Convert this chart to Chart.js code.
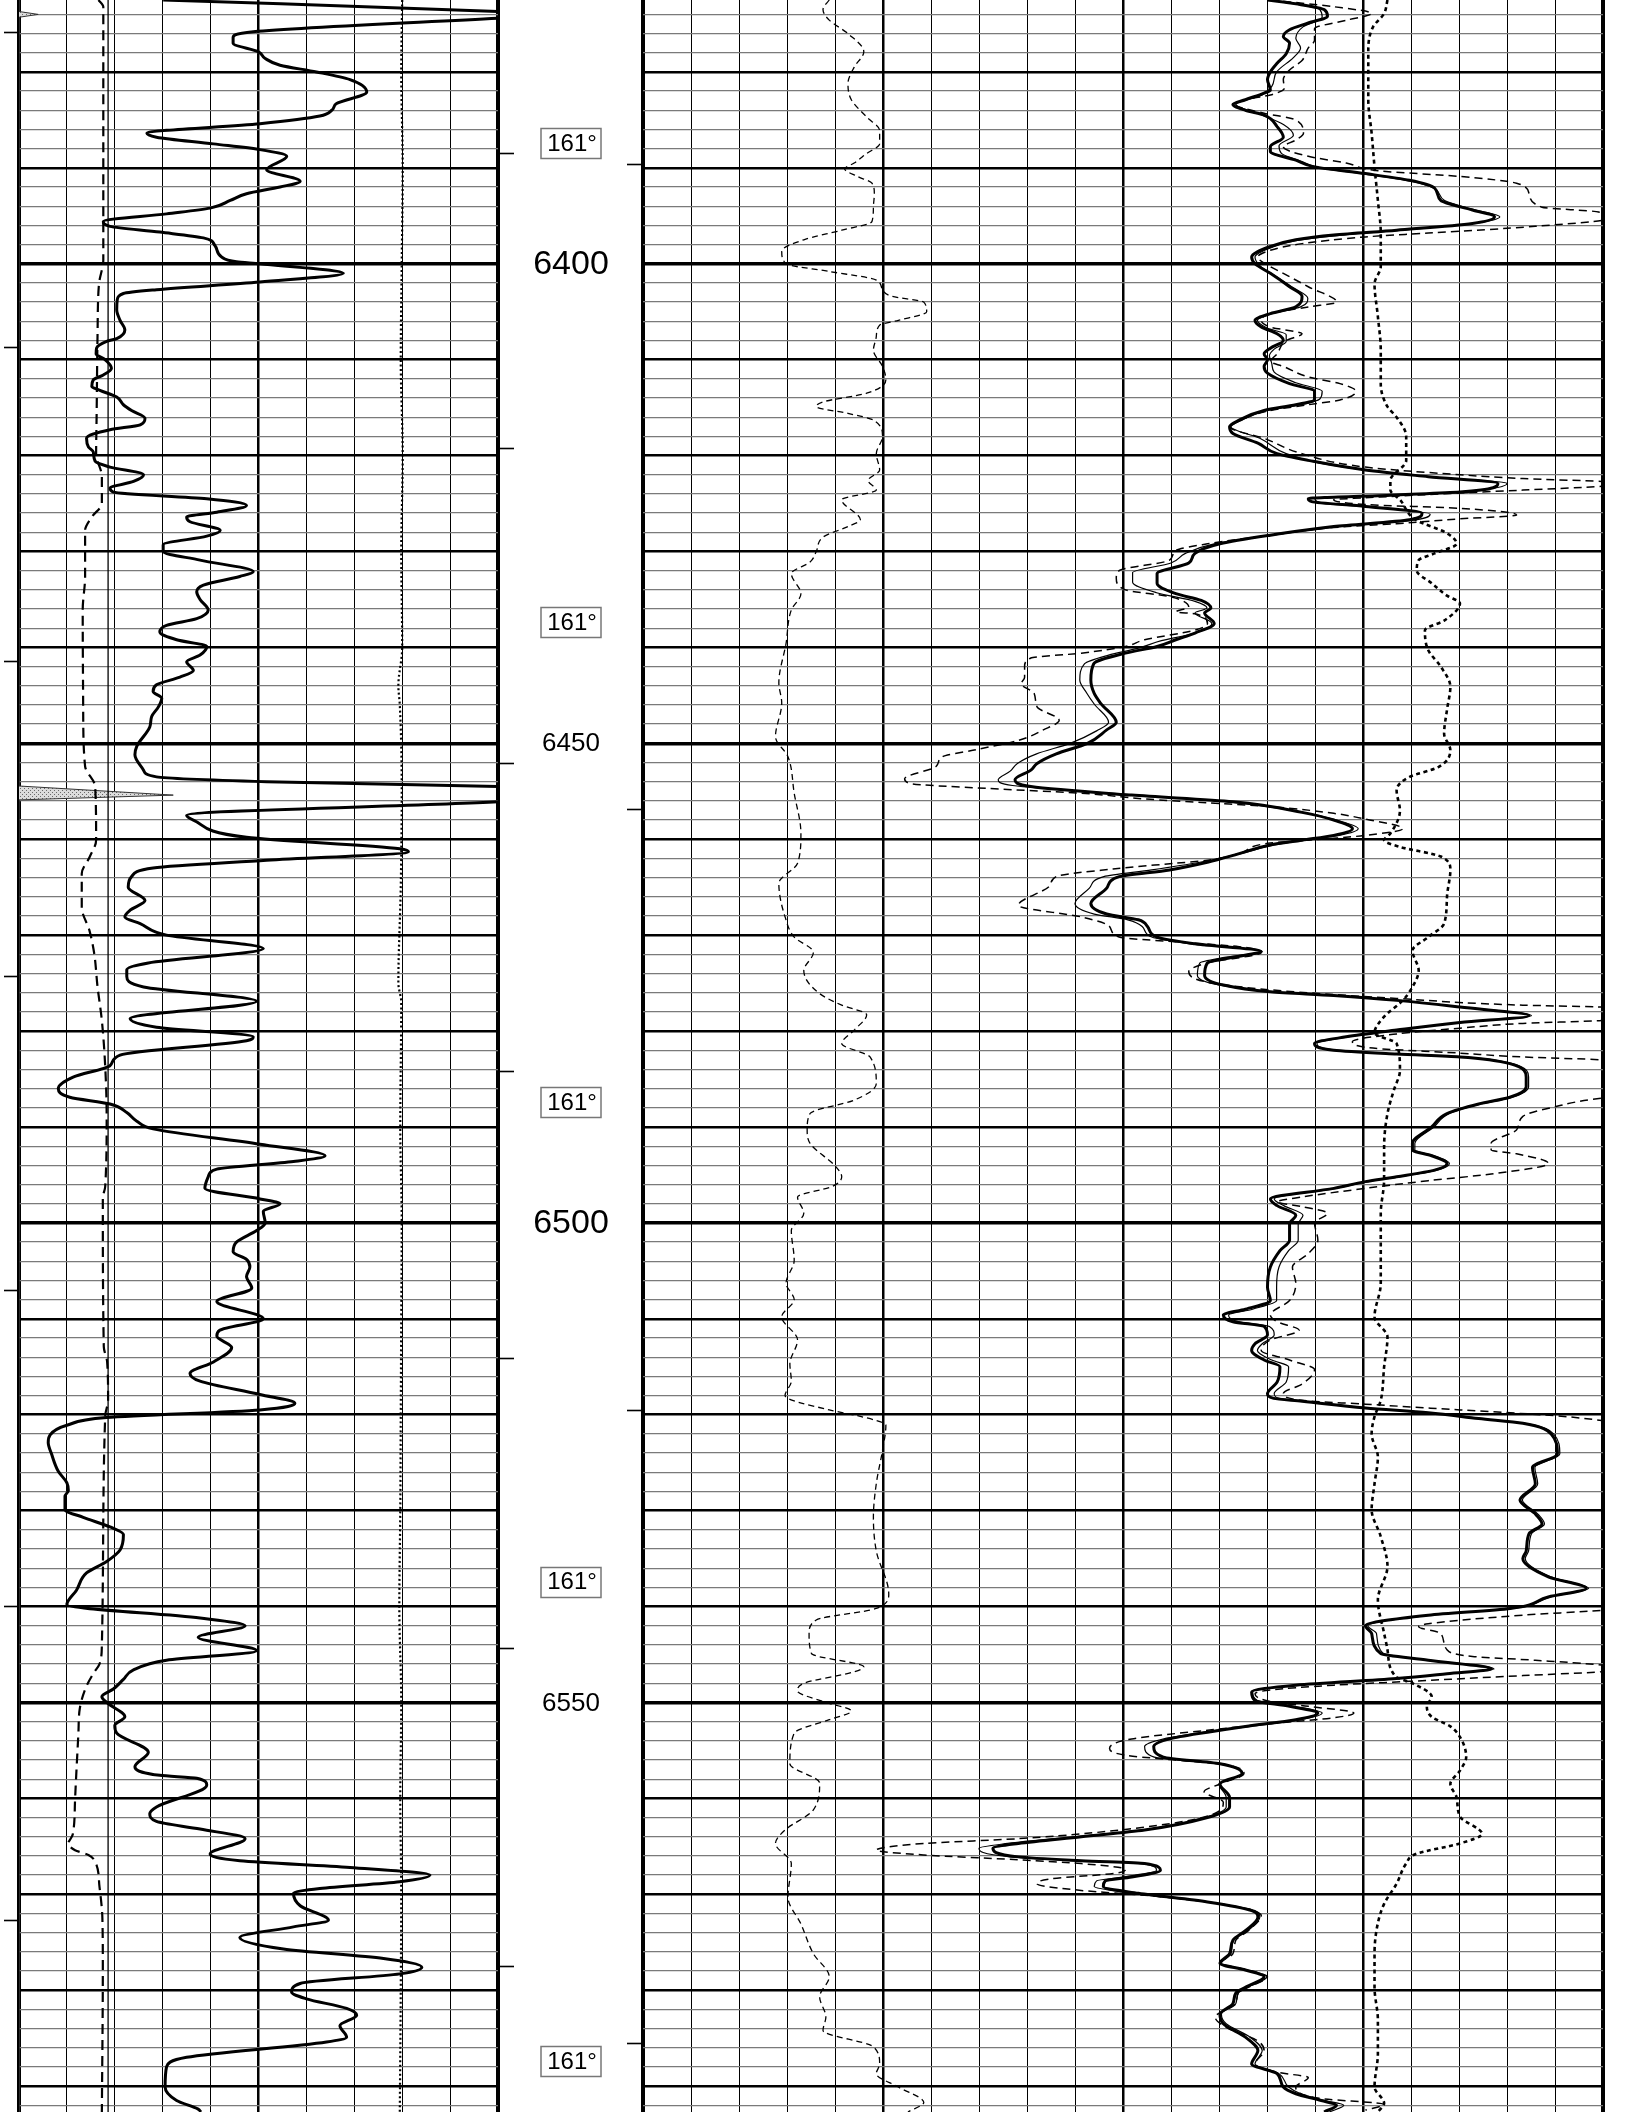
<!DOCTYPE html>
<html><head><meta charset="utf-8">
<script src="https://cdn.jsdelivr.net/npm/chart.js@4.4.1/dist/chart.umd.min.js"></script>
<style>
html,body{margin:0;padding:0;background:#fff;}
body{width:1627px;height:2112px;position:relative;overflow:hidden;}
canvas{position:absolute;top:0;}
#cl{left:0;}
#cr{left:600px;}
</style></head><body>
<canvas id="cl" width="650" height="2112"></canvas>
<canvas id="cr" width="1027" height="2112"></canvas>
<script>
// ---------------- DATA (depth in ft, value in track units) ----------------
const depthTop = 6372.5, depthBottom = 6592.7;

// depth track texts
const depthLabels = [6400, 6450, 6500, 6550];
const tempDepths = [6387.4, 6437.4, 6487.4, 6537.4, 6587.4];
const tempLabels = ['161°', '161°', '161°', '161°', '161°'];
const leftEdgeTicks = [6375.8, 6408.7, 6441.4, 6474.3, 6507.0, 6539.9, 6572.7];
const depthLeftTicks = [6388.4, 6419.2, 6452.1, 6484.2, 6514.1, 6544.3, 6577.5];
const depthRightTicks = [6389.6, 6456.8, 6519.5, 6585.5];

// track 1 (0..100)
const gammaRay = [[6372.5,30.1],[6373.7,100],[6374.1,112],[6374.4,100],[6375.8,48.9],[6376.4,44.7],[6377.0,44.7],[6377.9,50.0],[6378.6,51.4],[6379.3,54.5],[6380.0,62.1],[6380.8,69.1],[6382.1,72.6],[6383.3,66.3],[6384.0,65.3],[6384.6,62.8],[6385.4,50.3],[6386.4,26.7],[6386.8,28.7],[6387.5,40.6],[6388.1,50.3],[6388.8,55.9],[6390.2,51.7],[6391.4,58.7],[6392.0,54.5],[6392.7,47.5],[6393.4,44.1],[6394.2,39.9],[6394.8,30.8],[6395.6,17.6],[6396.1,19.0],[6396.7,29.4],[6397.3,38.5],[6398.1,40.9],[6399.3,42.3],[6399.8,45.4],[6400.0,50.3],[6401.0,67.7],[6401.9,50.3],[6402.7,28.7],[6403.1,21.8],[6403.8,20.5],[6404.8,20.4],[6405.9,21.1],[6406.9,22.1],[6407.8,20.4],[6408.1,18.3],[6408.8,16.2],[6409.4,16.1],[6409.9,17.7],[6410.9,19.3],[6411.6,17.6],[6412.1,15.5],[6412.8,15.2],[6413.2,16.9],[6413.9,20.4],[6414.7,21.8],[6415.3,23.5],[6416.1,26.3],[6416.8,25.3],[6417.3,19.0],[6418.2,14.1],[6419.1,14.5],[6419.6,15.5],[6420.6,15.9],[6421.2,19.0],[6422.0,26.0],[6422.7,23.9],[6423.4,19.0],[6423.8,19.7],[6424.5,39.2],[6425.2,47.5],[6425.9,41.3],[6426.4,35.0],[6426.9,35.7],[6427.8,42.0],[6428.4,39.2],[6429.3,30.1],[6430.0,30.1],[6430.9,37.8],[6432.1,48.9],[6432.6,46.1],[6433.5,38.5],[6434.2,37.1],[6435.0,37.8],[6436.1,39.5],[6437.0,37.1],[6437.7,30.8],[6438.4,29.4],[6439.2,32.9],[6439.9,39.2],[6440.8,37.8],[6441.5,35.0],[6442.4,36.4],[6443.1,33.6],[6443.9,28.7],[6444.6,28.0],[6445.3,29.8],[6446.2,29.1],[6447.2,27.7],[6448.3,27.3],[6450.3,24.6],[6451.2,24.2],[6452.8,26.0],[6453.5,28.7],[6454.0,51.7],[6454.5,100],[6455.3,125],[6456.1,100],[6457.5,35.0],[6458.0,36.4],[6459.8,47.5],[6461.0,79.5],[6461.3,81.3],[6462.2,51.7],[6463.0,28.0],[6463.9,23.5],[6465.0,22.8],[6466.4,26.3],[6467.4,23.2],[6468.1,22.1],[6468.8,25.3],[6470.0,30.8],[6471.4,51.0],[6472.9,27.0],[6473.6,22.5],[6474.3,22.5],[6475.4,26.0],[6476.9,49.6],[6478.7,23.2],[6479.6,28.7],[6480.6,48.9],[6481.0,47.5],[6482.5,21.1],[6483.6,19.0],[6484.8,11.3],[6486.0,8.2],[6486.9,10.6],[6487.6,19.0],[6488.5,22.5],[6489.4,24.6],[6490.2,28.0],[6491.8,50.3],[6493.0,63.9],[6493.6,57.3],[6494.4,41.3],[6495.2,39.5],[6496.4,38.8],[6497.5,50.3],[6498.0,54.5],[6498.8,51.0],[6500.0,51.4],[6500.8,49.6],[6502.0,45.4],[6503.0,44.7],[6503.8,47.5],[6504.6,48.2],[6505.6,47.5],[6506.8,48.6],[6508.2,41.3],[6510.0,51.0],[6511.2,41.9],[6511.8,41.3],[6513.0,44.4],[6514.5,40.6],[6515.7,35.7],[6516.5,37.8],[6517.9,50.3],[6518.8,57.6],[6519.5,50.3],[6520.3,18.3],[6521.1,10.0],[6522.1,6.5],[6522.9,6.1],[6524.1,6.8],[6525.9,8.2],[6527.1,10.0],[6527.9,10.3],[6528.5,9.6],[6529.9,9.6],[6530.7,13.4],[6531.7,19.0],[6532.5,21.8],[6534.1,21.1],[6535.3,18.3],[6536.5,14.1],[6538.3,12.0],[6539.8,10.0],[6541.2,37.8],[6542.0,47.2],[6543.2,37.4],[6544.6,49.6],[6545.6,30.8],[6546.6,23.9],[6547.6,21.8],[6548.6,19.7],[6549.4,17.3],[6550.0,18.3],[6551.5,22.1],[6552.4,20.0],[6553.2,20.4],[6555.2,27.0],[6556.7,24.2],[6557.6,29.4],[6557.9,37.1],[6558.6,39.2],[6560.9,28.7],[6561.6,27.3],[6562.4,28.7],[6563.2,37.8],[6564.2,47.2],[6565.8,39.9],[6566.5,46.1],[6567.2,69.1],[6568.0,85.8],[6568.7,79.5],[6569.4,62.8],[6569.9,57.3],[6571.2,58.7],[6572.7,64.6],[6573.4,57.3],[6574.5,46.1],[6575.7,55.2],[6576.7,76.1],[6577.6,84.1],[6578.3,79.5],[6579.3,58.7],[6580.2,56.9],[6580.9,60.0],[6581.9,68.4],[6582.6,70.5],[6583.7,67.0],[6584.9,68.4],[6585.4,64.2],[6587.0,35.0],[6588.0,30.8],[6590.1,30.5],[6591.5,32.9],[6592.4,37.4],[6592.7,38.0]];

const caliper = [[6372.5,16.6],[6373.2,17.6],[6399.6,17.6],[6402.1,16.7],[6407.3,16.4],[6416.0,16.2],[6419.8,16.1],[6422.2,17.3],[6425.0,17.3],[6426.4,15.2],[6427.8,13.8],[6432.6,13.8],[6436.1,13.3],[6446.5,13.4],[6452.4,13.8],[6454.5,15.9],[6460.1,16.1],[6461.8,14.8],[6463.6,13.1],[6467.1,13.1],[6469.5,14.7],[6471.9,15.7],[6475.4,16.4],[6478.9,17.3],[6483.7,18.0],[6488.9,18.3],[6496.2,18.0],[6497.4,17.5],[6512.9,17.7],[6514.5,18.4],[6518.5,18.6],[6520.1,18.0],[6544.0,17.3],[6546.0,16.8],[6547.0,15.5],[6548.4,14.0],[6550.6,12.7],[6553.2,12.4],[6560.2,11.7],[6563.8,11.2],[6564.7,10.3],[6565.4,11.7],[6565.9,14.5],[6566.6,15.9],[6569.2,16.8],[6572.4,17.4],[6577.6,17.5],[6592.7,17.3]];

const bitSize = [[6372.5,18.6],[6592.7,18.6]];

const tension = [[6372.5,80.0],[6380,79.8],[6390,80.1],[6400,79.9],[6410,79.7],[6420,80.1],[6430,79.8],[6440,80.0],[6444,79.2],[6446,79.5],[6455,79.9],[6465,79.7],[6475,79.2],[6477,79.8],[6490,79.6],[6500,79.9],[6510,79.8],[6520,79.7],[6530,79.6],[6540,79.4],[6550,79.8],[6560,79.6],[6570,79.8],[6580,79.7],[6592.7,79.5]];

const spikeFlag = [[6372.5,0],[6373.7,0],[6374.0,4],[6374.3,0],[6454.45,0],[6455.4,32.2],[6455.9,0],[6592.7,0]];

// track 2 (0..200)
const curveA = [[6372.5,38.8],[6373.5,37.5],[6374.6,38.8],[6376.0,42.7],[6377.9,46.0],[6379.5,44.0],[6381.2,42.7],[6382.9,43.4],[6384.7,46.6],[6386.1,49.3],[6387.5,49.3],[6388.5,46.6],[6389.5,44.0],[6390.1,42.0],[6390.9,44.7],[6391.6,47.7],[6392.7,48.2],[6394.1,48.0],[6395.6,47.7],[6396.5,41.4],[6397.5,33.5],[6398.7,28.9],[6400.0,29.8],[6400.8,38.8],[6401.7,48.6],[6402.7,49.9],[6403.4,51.9],[6404.0,58.5],[6405.0,59.1],[6405.9,53.2],[6406.4,49.3],[6407.6,48.6],[6409.0,48.0],[6410.7,49.9],[6412.1,50.6],[6413.5,46.6],[6414.4,37.5],[6414.9,36.1],[6415.6,42.7],[6416.3,48.0],[6418.0,49.9],[6419.8,48.6],[6421.5,49.3],[6422.6,46.9],[6423.6,48.6],[6424.6,41.4],[6426.7,45.3],[6427.4,42.7],[6428.5,37.5],[6430.0,36.1],[6431.1,34.8],[6432.3,30.9],[6434.4,32.9],[6436.1,30.9],[6439.6,29.8],[6443.7,28.3],[6445.8,28.9],[6449.3,27.6],[6451.4,30.2],[6455.2,31.5],[6459.4,32.9],[6462.5,32.2],[6464.6,28.3],[6468.1,29.6],[6470.2,31.5],[6471.8,35.5],[6473.7,33.5],[6476.1,36.8],[6477.3,41.4],[6478.3,46.6],[6479.9,44.0],[6481.3,41.4],[6482.7,47.3],[6485.5,48.6],[6487.2,44.0],[6488.6,34.8],[6490.3,34.2],[6491.7,34.8],[6494.1,40.1],[6495.2,41.4],[6496.2,39.4],[6497.3,32.2],[6499.0,33.5],[6500.8,30.9],[6503.9,31.5],[6506.3,29.8],[6508.0,31.5],[6509.8,28.9],[6512.2,32.2],[6514.7,30.6],[6516.5,30.9],[6518.0,29.6],[6519.5,38.8],[6520.1,44.7],[6521.1,50.6],[6523.7,49.9],[6527.2,48.6],[6530.7,48.0],[6534.2,48.6],[6538.7,51.2],[6540.2,48.6],[6541.4,36.1],[6542.8,34.6],[6544.9,35.1],[6546.3,46.0],[6546.8,44.0],[6548.0,33.5],[6548.8,32.2],[6549.9,37.5],[6550.9,43.4],[6551.8,38.8],[6553.2,31.5],[6556.4,30.6],[6558.4,36.8],[6561.2,35.5],[6563.3,29.6],[6564.7,27.6],[6566.8,30.9],[6570.3,30.2],[6573.1,32.9],[6576.2,35.5],[6578.6,38.8],[6580.7,36.8],[6582.8,38.1],[6584.2,37.5],[6585.9,48.0],[6587.7,49.3],[6588.7,48.6],[6590.1,53.2],[6591.7,58.5],[6592.7,55.2]];

const deepRes = [[6372.5,130.1],[6372.9,136.0],[6373.5,141.9],[6374.2,142.6],[6374.9,138.6],[6375.6,134.7],[6376.3,133.4],[6377.0,134.7],[6378.1,134.0],[6379.1,132.1],[6380.0,130.7],[6380.8,130.1],[6381.9,130.7],[6382.2,129.4],[6382.9,125.5],[6383.4,122.9],[6384.0,125.5],[6384.5,129.4],[6385.7,132.1],[6386.8,133.4],[6387.8,130.7],[6388.3,130.7],[6389.2,136.0],[6389.9,139.9],[6390.6,150.5],[6391.3,159.7],[6392.1,164.9],[6393.4,166.2],[6394.4,172.8],[6395.1,177.4],[6395.8,172.8],[6396.5,157.0],[6397.0,143.9],[6397.5,136.0],[6398.2,130.7],[6399.3,126.8],[6400.0,127.5],[6401.0,130.7],[6402.4,134.7],[6403.4,137.3],[6404.5,136.0],[6405.2,130.7],[6405.9,127.5],[6406.6,128.8],[6407.3,132.1],[6408.0,133.4],[6408.8,130.7],[6409.4,129.4],[6410.0,130.1],[6410.7,129.4],[6411.4,130.1],[6412.5,134.7],[6413.3,139.9],[6414.2,139.9],[6414.7,136.0],[6415.3,129.4],[6416.3,124.2],[6417.0,122.2],[6417.7,122.9],[6418.7,128.1],[6419.8,132.1],[6420.5,138.6],[6421.5,150.5],[6422.2,163.6],[6422.9,178.1],[6423.8,170.2],[6424.1,157.0],[6424.5,138.6],[6424.8,139.3],[6425.3,150.5],[6426.0,162.3],[6426.7,159.7],[6427.4,143.9],[6428.3,130.7],[6429.2,120.2],[6430.2,115.0],[6431.2,113.7],[6432.3,107.1],[6433.3,107.1],[6434.4,111.0],[6435.1,116.3],[6435.9,118.3],[6436.4,117.0],[6437.5,119.0],[6438.5,115.0],[6439.2,111.0],[6439.9,107.1],[6440.6,100.5],[6441.7,93.9],[6443.4,93.3],[6444.8,94.0],[6445.8,95.3],[6447.8,98.6],[6448.6,96.6],[6450.0,92.6],[6451.1,86.1],[6452.1,82.1],[6452.8,80.8],[6453.8,77.5],[6454.5,80.8],[6455.4,101.8],[6456.1,122.9],[6457.2,137.3],[6458.0,143.9],[6458.9,147.8],[6459.6,143.9],[6460.1,137.3],[6460.6,130.7],[6461.5,124.2],[6462.4,117.6],[6463.2,109.7],[6463.9,99.2],[6465.1,96.6],[6466.7,93.3],[6467.8,96.6],[6468.4,103.2],[6469.1,105.1],[6470.2,107.1],[6470.9,115.0],[6471.7,128.8],[6472.3,122.9],[6472.9,117.6],[6474.2,117.0],[6475.2,120.9],[6475.9,130.7],[6476.3,143.9],[6476.8,157.0],[6477.5,170.2],[6478.4,184.6],[6479.1,170.2],[6479.9,157.0],[6480.6,146.5],[6481.3,139.9],[6482.0,143.9],[6482.4,157.0],[6482.7,170.2],[6483.4,180.6],[6484.8,184.0],[6485.8,184.0],[6486.9,180.6],[6487.6,174.1],[6488.6,167.5],[6490.0,164.3],[6491.7,160.3],[6492.4,160.3],[6493.0,164.3],[6493.8,167.5],[6494.5,164.9],[6495.2,157.0],[6495.7,150.5],[6496.4,143.9],[6497.5,130.7],[6498.2,132.1],[6499.2,136.0],[6500.1,134.7],[6501.8,134.7],[6502.9,132.7],[6504.6,130.7],[6506.7,130.1],[6508.1,130.7],[6509.0,125.5],[6509.6,120.9],[6510.3,122.9],[6510.8,129.4],[6511.7,130.1],[6512.6,127.5],[6513.3,126.8],[6514.3,129.4],[6515.0,132.7],[6516.6,132.1],[6517.8,130.1],[6518.3,131.4],[6518.6,137.3],[6519.3,150.5],[6519.8,163.6],[6520.4,174.1],[6520.9,183.3],[6522.0,189.2],[6524.1,190.5],[6525.5,185.3],[6527.2,185.9],[6528.9,182.7],[6530.4,186.0],[6531.4,187.3],[6532.4,184.6],[6534.2,184.0],[6535.0,183.3],[6536.9,188.6],[6538.1,196.5],[6539.0,188.6],[6540.2,180.7],[6540.9,163.6],[6542.0,150.5],[6542.8,151.8],[6544.9,153.7],[6545.6,163.6],[6546.5,176.8],[6547.0,167.5],[6547.5,157.0],[6548.2,136.0],[6548.9,126.8],[6549.8,127.5],[6550.4,134.7],[6551.1,140.6],[6551.8,136.0],[6552.5,125.5],[6553.1,117.6],[6553.8,109.7],[6554.6,106.4],[6555.7,108.4],[6556.4,120.2],[6557.4,124.8],[6558.5,120.2],[6559.9,122.2],[6560.9,122.2],[6562.0,117.6],[6563.3,104.5],[6564.0,91.3],[6564.7,78.2],[6565.2,72.9],[6566.1,78.2],[6566.5,91.3],[6566.8,104.5],[6567.5,107.8],[6568.2,101.8],[6568.6,96.3],[6569.2,95.9],[6569.9,103.2],[6570.8,117.6],[6571.7,126.8],[6572.4,128.1],[6573.8,125.5],[6574.8,122.9],[6576.2,122.2],[6577.2,120.2],[6577.9,125.5],[6578.6,129.4],[6579.7,125.5],[6580.3,123.5],[6581.4,122.9],[6582.5,120.2],[6583.5,120.9],[6584.9,125.5],[6586.3,128.1],[6587.7,126.8],[6588.7,132.1],[6590.1,133.4],[6590.8,136.0],[6591.5,141.3],[6592.0,144.5],[6592.7,141.9]];

const medRes = [[6372.5,130.5],[6373.5,141.0],[6374.3,141.5],[6375.3,137.5],[6376.5,136.0],[6377.5,137.0],[6378.5,135.5],[6380.0,132.0],[6381.5,131.0],[6382.4,129.0],[6383.4,123.5],[6384.4,128.5],[6385.5,133.5],[6386.6,135.5],[6387.7,132.5],[6388.5,133.0],[6389.3,137.0],[6390.0,141.0],[6390.7,151.0],[6391.4,160.0],[6392.2,165.0],[6393.4,167.0],[6394.4,173.5],[6395.1,178.5],[6395.8,173.0],[6396.5,158.0],[6397.1,144.0],[6397.6,136.0],[6398.3,131.0],[6399.3,127.5],[6400.2,128.5],[6401.2,131.5],[6402.5,135.5],[6403.6,138.5],[6404.5,137.0],[6405.2,131.0],[6405.9,128.0],[6406.7,130.0],[6407.4,134.0],[6408.1,134.0],[6408.9,131.5],[6409.6,130.5],[6410.4,131.0],[6411.3,131.5],[6412.4,136.0],[6413.3,141.5],[6414.1,141.0],[6414.7,137.0],[6415.3,130.0],[6416.3,124.8],[6417.0,122.5],[6418.2,128.5],[6419.8,134.0],[6420.8,141.0],[6421.6,152.0],[6422.3,166.0],[6422.9,180.0],[6423.7,172.0],[6424.1,158.0],[6424.5,140.0],[6424.9,141.0],[6425.4,152.0],[6426.1,164.0],[6426.7,161.0],[6427.4,145.0],[6428.3,131.0],[6429.2,119.0],[6430.2,113.0],[6431.2,110.0],[6432.2,102.0],[6433.2,102.0],[6434.3,107.0],[6435.2,115.0],[6435.9,117.5],[6436.4,115.0],[6437.5,118.5],[6438.5,115.0],[6439.3,108.0],[6440.1,103.0],[6440.8,97.0],[6441.7,92.0],[6443.4,91.0],[6444.8,92.5],[6445.9,94.0],[6447.8,97.0],[6448.7,94.5],[6450.0,89.0],[6451.1,82.0],[6452.1,78.0],[6452.9,76.5],[6453.8,74.0],[6454.4,77.0],[6455.3,100.0],[6456.1,122.0],[6457.2,137.5],[6458.0,144.5],[6458.9,149.0],[6459.6,145.0],[6460.1,138.0],[6460.6,131.5],[6461.5,124.5],[6462.4,116.0],[6463.2,106.0],[6463.9,96.0],[6465.1,93.0],[6466.7,90.0],[6467.8,94.0],[6468.4,101.0],[6469.1,104.0],[6470.2,106.0],[6470.9,114.0],[6471.7,129.0],[6472.3,121.5],[6472.9,116.0],[6474.2,115.5],[6475.2,120.0],[6475.9,131.0],[6476.3,144.4],[6476.8,157.5],[6477.5,170.7],[6478.4,185.1],[6479.1,170.7],[6479.9,157.5],[6480.6,147.0],[6481.3,140.4],[6482.0,144.4],[6482.4,157.5],[6482.7,170.7],[6483.4,181.1],[6484.8,184.5],[6485.8,184.5],[6486.9,181.1],[6487.6,174.6],[6488.6,168.0],[6490.0,164.8],[6491.7,160.8],[6492.4,160.8],[6493.0,164.8],[6493.8,168.0],[6494.5,165.4],[6495.2,157.5],[6495.7,151.0],[6496.4,144.4],[6497.5,131.5],[6498.2,133.5],[6499.2,137.5],[6500.1,136.5],[6501.8,136.5],[6502.9,134.5],[6504.6,132.5],[6506.7,132.0],[6508.1,132.0],[6509.0,127.0],[6509.6,122.0],[6510.3,124.0],[6510.8,130.5],[6511.7,131.5],[6512.6,129.0],[6513.3,128.0],[6514.3,131.0],[6515.0,134.5],[6516.6,134.0],[6517.8,131.5],[6518.3,132.5],[6518.6,137.8],[6519.3,151.0],[6519.8,164.1],[6520.4,174.6],[6520.9,183.8],[6522.0,189.7],[6524.1,191.0],[6525.5,185.8],[6527.2,186.4],[6528.9,183.2],[6530.4,186.5],[6531.4,187.8],[6532.4,185.1],[6534.2,184.5],[6535.0,183.8],[6536.9,189.1],[6538.1,197.0],[6539.0,189.1],[6540.2,181.2],[6540.9,164.1],[6542.0,151.0],[6542.8,152.8],[6544.9,154.2],[6545.6,164.1],[6546.5,177.3],[6547.0,168.0],[6547.5,157.5],[6548.2,136.5],[6548.9,127.0],[6549.8,128.0],[6550.4,135.5],[6551.1,141.5],[6551.8,137.0],[6552.5,126.5],[6553.1,117.0],[6553.8,108.5],[6554.6,104.5],[6555.7,106.5],[6556.4,120.0],[6557.4,125.0],[6558.5,120.0],[6559.9,121.5],[6560.9,121.5],[6562.0,117.0],[6563.3,104.0],[6564.0,90.0],[6564.7,76.0],[6565.2,70.0],[6566.1,76.5],[6566.5,90.5],[6566.8,104.0],[6567.5,107.0],[6568.2,100.0],[6568.6,94.5],[6569.2,94.0],[6569.9,102.0],[6570.8,117.5],[6571.7,127.5],[6572.4,128.5],[6573.8,126.0],[6574.8,123.0],[6576.2,122.5],[6577.2,120.5],[6577.9,126.0],[6578.6,130.0],[6579.7,126.0],[6580.3,124.0],[6581.4,123.5],[6582.5,120.5],[6583.5,121.5],[6584.9,126.5],[6586.3,129.0],[6587.7,127.5],[6588.7,132.5],[6590.1,134.5],[6590.8,137.0],[6591.5,142.0],[6592.0,146.0],[6592.7,143.0]];

const shallowRes = [[6372.5,130.7],[6373.2,143.9],[6373.9,151.8],[6374.6,146.6],[6375.5,139.9],[6376.7,139.9],[6377.5,138.6],[6378.8,137.3],[6379.8,134.7],[6380.8,133.4],[6381.7,133.6],[6382.4,130.7],[6382.9,125.5],[6383.4,123.5],[6384.3,129.4],[6385.0,136.0],[6386.4,137.6],[6387.1,136.0],[6387.8,133.4],[6388.8,138.6],[6389.5,146.5],[6390.3,153.1],[6390.9,170.2],[6391.6,182.0],[6392.7,184.6],[6394.1,187.3],[6394.6,199.1],[6395.3,201.0],[6396.1,185.9],[6396.8,163.6],[6397.2,150.5],[6397.9,137.3],[6398.6,130.7],[6399.3,128.1],[6400.3,130.7],[6401.0,133.4],[6402.4,138.6],[6404.0,144.5],[6404.5,138.6],[6405.2,130.7],[6405.9,128.8],[6406.6,130.7],[6407.3,137.3],[6408.0,134.0],[6409.4,132.1],[6410.2,130.7],[6410.7,133.4],[6411.8,138.6],[6412.5,145.2],[6413.3,148.5],[6414.2,145.2],[6414.7,138.6],[6415.3,130.7],[6416.3,124.5],[6417.0,122.2],[6418.2,129.4],[6419.8,137.3],[6421.2,150.5],[6422.0,170.2],[6422.4,183.3],[6422.7,199.7],[6422.95,204.0],[6423.2,199.7],[6423.6,183.3],[6423.9,170.2],[6424.4,150.5],[6424.6,143.9],[6425.1,150.5],[6425.5,170.2],[6426.2,182.0],[6426.6,170.2],[6427.1,157.0],[6427.5,143.9],[6428.3,130.7],[6429.2,117.6],[6429.9,111.0],[6430.9,109.7],[6432.0,99.2],[6432.8,98.6],[6434.0,100.5],[6434.7,109.7],[6435.8,113.7],[6436.3,111.0],[6436.5,115.0],[6437.5,117.6],[6438.2,115.0],[6439.2,104.5],[6439.9,100.5],[6440.6,91.3],[6441.1,80.8],[6442.0,79.5],[6443.1,79.5],[6443.8,78.8],[6444.8,81.5],[6446.2,82.1],[6447.6,86.7],[6448.6,83.4],[6449.7,78.2],[6450.7,69.0],[6451.4,62.4],[6452.4,61.1],[6453.7,54.5],[6454.2,55.8],[6454.7,71.6],[6455.2,91.3],[6455.8,104.5],[6456.2,117.6],[6456.6,130.7],[6457.3,143.9],[6457.9,150.5],[6458.9,158.3],[6459.6,150.5],[6459.9,143.9],[6460.4,130.7],[6461.5,124.2],[6462.2,117.6],[6462.5,111.0],[6463.1,97.9],[6463.9,86.1],[6464.8,84.8],[6466.9,78.2],[6468.1,91.3],[6469.1,97.2],[6470.2,99.2],[6470.7,111.0],[6471.2,124.2],[6471.8,128.8],[6472.9,117.6],[6473.8,113.7],[6474.9,117.6],[6475.7,130.7],[6476.6,157.0],[6477.3,183.3],[6477.5,199.7],[6478.2,206.0],[6478.9,199.7],[6479.2,183.3],[6479.7,170.2],[6480.3,157.0],[6481.1,147.8],[6481.7,150.5],[6482.3,170.2],[6482.7,183.3],[6483.0,199.7],[6484.1,212.0],[6486.5,212.0],[6487.0,199.7],[6487.9,189.9],[6488.9,183.3],[6490.3,182.0],[6491.7,176.7],[6492.4,176.7],[6492.8,182.0],[6493.8,188.6],[6494.9,176.7],[6495.6,163.6],[6496.4,150.5],[6497.3,137.3],[6497.8,132.1],[6498.3,137.3],[6499.0,142.6],[6500.0,139.9],[6501.8,140.6],[6503.2,138.6],[6504.6,135.3],[6506.3,136.0],[6508.1,134.7],[6509.6,130.7],[6510.3,132.1],[6511.2,136.7],[6512.2,130.7],[6513.3,128.8],[6514.3,134.7],[6515.3,139.9],[6516.8,137.3],[6517.8,133.4],[6518.5,137.3],[6518.9,150.5],[6519.5,170.2],[6520.1,189.9],[6520.6,199.7],[6521.6,212.0],[6539.7,212.0],[6540.4,199.7],[6540.9,183.3],[6541.8,163.6],[6542.1,161.6],[6542.8,166.2],[6544.5,167.5],[6545.2,172.8],[6545.6,185.9],[6546.1,199.7],[6546.5,204.0],[6546.8,199.7],[6547.2,183.3],[6547.8,159.7],[6548.2,143.9],[6548.7,130.7],[6549.1,127.5],[6549.9,130.7],[6550.4,138.6],[6551.1,148.1],[6551.6,143.9],[6552.2,130.7],[6552.9,117.6],[6553.8,101.8],[6554.8,97.2],[6555.5,100.5],[6555.9,108.4],[6556.4,120.2],[6557.4,125.2],[6558.5,120.2],[6559.3,116.9],[6560.4,120.9],[6561.6,119.0],[6563.0,104.5],[6564.2,78.2],[6564.7,58.5],[6565.4,48.6],[6565.9,58.5],[6566.4,78.2],[6566.8,91.3],[6567.4,100.5],[6567.8,98.6],[6568.4,84.8],[6568.9,82.1],[6569.6,91.3],[6570.1,104.5],[6570.8,117.6],[6572.2,128.8],[6573.8,126.1],[6574.8,123.5],[6576.2,122.9],[6577.2,120.2],[6577.9,126.1],[6578.6,130.1],[6579.7,126.1],[6580.3,124.0],[6581.4,123.5],[6582.8,119.2],[6583.9,121.6],[6585.3,128.1],[6586.3,129.4],[6587.7,127.5],[6588.6,132.7],[6589.1,138.6],[6590.1,136.0],[6591.3,141.3],[6591.9,154.4],[6592.5,150.5]];

const curveE = [[6372.5,155.1],[6373.9,154.4],[6375.3,152.1],[6377.7,151.1],[6382.9,151.1],[6386.4,151.8],[6389.9,152.4],[6393.4,153.1],[6396.8,153.7],[6400.3,153.7],[6402.1,152.4],[6405.5,153.1],[6409.0,153.7],[6412.5,153.7],[6414.9,155.1],[6416.0,157.0],[6418.0,159.0],[6420.5,159.0],[6422.6,155.7],[6423.6,155.7],[6424.6,157.7],[6426.7,161.0],[6428.1,167.5],[6429.2,169.5],[6430.2,164.9],[6430.9,161.6],[6432.0,161.2],[6433.3,164.3],[6434.6,167.5],[6435.4,170.2],[6437.2,166.9],[6438.2,162.9],[6440.3,163.6],[6442.0,166.2],[6444.1,168.2],[6446.5,167.5],[6449.0,166.9],[6450.7,168.2],[6452.5,165.6],[6453.5,159.7],[6454.9,157.0],[6457.0,157.7],[6459.4,155.7],[6460.1,154.4],[6460.8,157.7],[6461.8,166.2],[6463.2,168.2],[6466.0,167.5],[6468.8,166.9],[6470.2,163.6],[6471.6,160.3],[6473.7,161.6],[6475.4,160.3],[6476.8,158.3],[6478.5,154.4],[6480.2,152.4],[6481.3,157.0],[6484.1,157.7],[6486.2,156.4],[6488.6,155.1],[6492.1,154.4],[6495.5,154.4],[6499.0,153.7],[6503.9,153.7],[6506.3,153.7],[6509.8,152.4],[6511.9,155.1],[6515.0,154.4],[6518.5,153.7],[6520.2,152.4],[6522.0,151.8],[6524.4,153.1],[6527.2,152.4],[6529.9,151.8],[6532.7,153.7],[6535.8,155.1],[6539.3,153.1],[6542.8,154.4],[6544.5,155.1],[6547.3,156.8],[6548.0,160.3],[6549.4,164.3],[6550.4,163.3],[6551.5,164.3],[6552.5,168.2],[6553.6,170.2],[6555.7,171.5],[6557.1,170.2],[6558.5,168.2],[6559.9,169.5],[6561.9,170.2],[6563.7,174.8],[6564.7,170.2],[6565.8,161.0],[6566.8,159.0],[6568.9,157.0],[6571.0,154.4],[6573.0,153.1],[6576.2,152.4],[6579.7,152.4],[6583.1,153.1],[6586.6,153.1],[6590.1,152.4],[6591.8,154.4],[6592.7,153.1]];

// grid tick positions
const depthGrid = []; for (let d = 6374; d <= 6592; d += 2) depthGrid.push(d);
const track1Grid = [0,10,20,30,40,50,60,70,80,90,100];
const track2Grid = []; for (let v = 0; v <= 200; v += 10) track2Grid.push(v);

// ---------------- RENDERING ----------------
Chart.defaults.font.family = '"Liberation Sans", Arial, sans-serif';
const pts = arr => arr.map(([d, v]) => ({x: v, y: d}));

function makePattern() {
  const c = document.createElement('canvas'); c.width = 4; c.height = 4;
  const g = c.getContext('2d');
  g.fillStyle = '#dcdcdc'; g.fillRect(0, 0, 4, 4);
  g.fillStyle = '#6a6a6a'; g.fillRect(0, 0, 1, 1); g.fillRect(2, 2, 1, 1);
  return g.createPattern(c, 'repeat');
}

function depthScale() {
  return {
    type: 'linear', min: depthTop, max: depthBottom, reverse: true,
    ticks: {display: false}, border: {display: false},
    afterBuildTicks: s => { s.ticks = depthGrid.map(v => ({value: v})); },
    grid: {
      drawTicks: false,
      color: c => (c.tick && c.tick.value % 10 === 0) ? '#000' : '#7a7a7a',
      lineWidth: c => !c.tick ? 1 : (c.tick.value % 50 === 0 ? 3.4 : (c.tick.value % 10 === 0 ? 2.6 : 1.3))
    }
  };
}
function valueScale(max, gridVals, heavy) {
  return {
    type: 'linear', min: 0, max: max,
    ticks: {display: false}, border: {display: false},
    afterBuildTicks: s => { s.ticks = gridVals.map(v => ({value: v})); },
    grid: {
      drawTicks: false, color: '#000',
      lineWidth: c => {
        const v = c.tick ? c.tick.value : -1;
        if (v === 0 || v === max) return 4;
        return heavy.includes(v) ? 2.5 : 1;
      }
    }
  };
}
function line(data, o) {
  return Object.assign({data: pts(data), pointRadius: 0, fill: false, borderColor: '#000',
    cubicInterpolationMode: 'monotone', borderWidth: 1}, o);
}
const common = {
  type: 'line', responsive: false, devicePixelRatio: 1, animation: false, events: [],
  indexAxis: 'y',
  plugins: {legend: {display: false}, tooltip: {enabled: false}}
};

const depthTrack = {
  id: 'depthTrack',
  afterDraw(chart) {
    const ctx = chart.ctx, ys = chart.scales.y;
    const xc = 571;
    ctx.save();
    ctx.fillStyle = '#000'; ctx.textAlign = 'center'; ctx.textBaseline = 'middle';
    depthLabels.forEach(d => {
      ctx.font = (d % 100 === 0 ? 34 : 26) + 'px "Liberation Sans", Arial, sans-serif';
      ctx.fillText(String(d), xc, ys.getPixelForValue(d) + 1);
    });
    ctx.font = '24px "Liberation Sans", Arial, sans-serif';
    tempDepths.forEach((d, i) => {
      const y = ys.getPixelForValue(d);
      ctx.strokeStyle = '#777'; ctx.lineWidth = 1.5;
      ctx.strokeRect(xc - 30, Math.round(y - 15) + 0.5, 60, 30);
      ctx.fillStyle = '#000';
      ctx.fillText(tempLabels[i], xc + 1, y + 1);
    });
    ctx.strokeStyle = '#000'; ctx.lineWidth = 1.6;
    const tick = (arr, x0, x1) => arr.forEach(d => {
      const y = Math.round(ys.getPixelForValue(d)) + 0.5;
      ctx.beginPath(); ctx.moveTo(x0, y); ctx.lineTo(x1, y); ctx.stroke();
    });
    tick(leftEdgeTicks, 4, 19);
    tick(depthLeftTicks, 498, 514);
    tick(depthRightTicks, 627, 643);
    ctx.restore();
  }
};

new Chart(document.getElementById('cl'), Object.assign({}, common, {
  data: {datasets: [
    line(gammaRay, {borderWidth: 3}),
    line(caliper, {borderWidth: 2.2, borderDash: [10, 6]}),
    line(bitSize, {borderWidth: 1.3}),
    line(tension, {borderWidth: 2.2, borderDash: [2, 2.5], borderColor: '#000'}),
    line(spikeFlag, {borderWidth: 1, borderColor: '#333', tension: 0, cubicInterpolationMode: 'default',
      fill: {value: 0}, backgroundColor: makePattern()})
  ]},
  options: Object.assign({}, common, {
    layout: {padding: {left: 19, right: 152, top: 0, bottom: 0}},
    scales: {x: valueScale(100, track1Grid, [50]), y: depthScale()}
  }),
  plugins: [depthTrack]
}));

new Chart(document.getElementById('cr'), Object.assign({}, common, {
  data: {datasets: [
    line(deepRes, {borderWidth: 3}),
    line(medRes, {borderWidth: 1.2}),
    line(shallowRes, {borderWidth: 1.5, borderDash: [8, 5]}),
    line(curveE, {borderWidth: 2.6, borderDash: [4, 3.5]}),
    line(curveA, {borderWidth: 1.3, borderDash: [6, 4]})
  ]},
  options: Object.assign({}, common, {
    layout: {padding: {left: 43, right: 24, top: 0, bottom: 0}},
    scales: {x: valueScale(200, track2Grid, [50, 100, 150]), y: depthScale()}
  })
}));
</script>
</body></html>
